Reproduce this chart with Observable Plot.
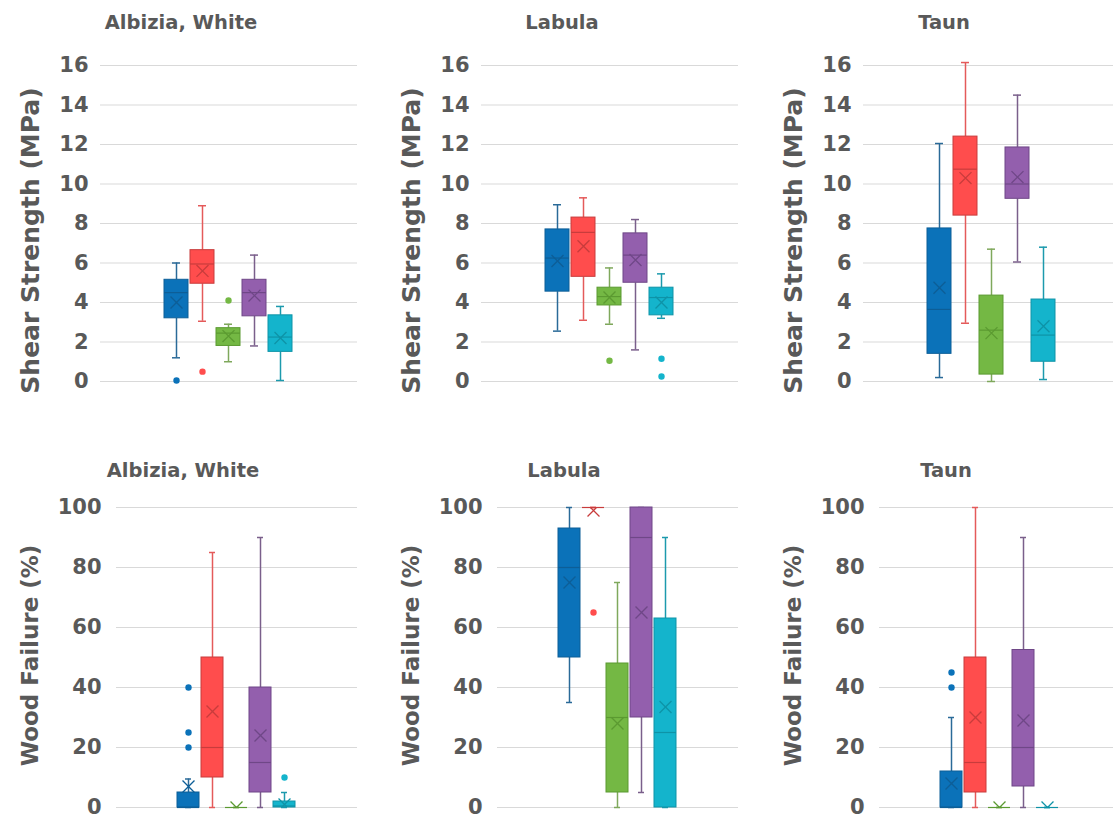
<!DOCTYPE html>
<html>
<head>
<meta charset="utf-8">
<script src="https://cdn.jsdelivr.net/npm/d3@7"></script>
<script src="https://cdn.jsdelivr.net/npm/@observablehq/plot@0.6"></script>
<style>
  html, body { margin: 0; padding: 0; background: #fff; overflow: hidden; }
  #wrap { position: relative; width: 1113px; height: 823px; overflow: hidden; }
  .panel { position: absolute; width: 382px; }
  .panel svg { max-width: none !important; width: 382px; }
</style>
</head>
<body>
<div id="wrap"></div>
<script>
// ---- Data ----
const series = ["S1", "S2", "S3", "S4", "S5"];
const fills   = ["#0b72b9", "#ff4d4d", "#74b844", "#935fad", "#14b4cc"];
const strokes = ["#0d5e97", "#c83c3c", "#5b9a31", "#6f4787", "#0e93a7"];
const whiskerColors = ["#2a6a98", "#e45a5a", "#7fa85c", "#7a5f8b", "#1c9aad"];

const panelTitles = ["Albizia, White", "Labula", "Taun"];
const shearTicks = [0, 2, 4, 6, 8, 10, 12, 14, 16];
const woodTicks = [0, 20, 40, 60, 80, 100];
const shearLabel = "Shear Strength (MPa)";
const woodLabel = "Wood Failure (%)";

// each row: [min, q1, median, q3, max, mean] for S1..S5
const shearAlbizia = [
  [1.2, 3.2, 4.5, 5.15, 6.0, 4.0],
  [3.05, 4.95, 5.95, 6.65, 8.9, 5.6],
  [1.0, 1.8, 2.45, 2.7, 2.9, 2.3],
  [1.8, 3.3, 4.5, 5.15, 6.4, 4.35],
  [0.05, 1.5, 2.25, 3.35, 3.8, 2.2]
];
const shearLabula = [
  [2.55, 4.55, 6.25, 7.7, 8.95, 6.1],
  [3.1, 5.3, 7.55, 8.3, 9.3, 6.85],
  [2.9, 3.85, 4.3, 4.75, 5.75, 4.25],
  [1.6, 5.0, 6.4, 7.5, 8.2, 6.15],
  [3.2, 3.35, 4.25, 4.75, 5.45, 4.0]
];
const shearTaun = [
  [0.2, 1.4, 3.65, 7.75, 12.05, 4.75],
  [2.95, 8.4, 10.75, 12.4, 16.15, 10.3],
  [0.0, 0.35, 2.6, 4.35, 6.7, 2.45],
  [6.05, 9.25, 10.0, 11.85, 14.5, 10.35],
  [0.1, 1.0, 2.35, 4.15, 6.8, 2.8]
];
const woodAlbizia = [
  [0, 0, 0, 5, 9.5, 7],
  [0, 10, 20, 50, 85, 32],
  [0, 0, 0, 0, 0, 0],
  [0, 5, 15, 40, 90, 24],
  [0, 0, 0.5, 2, 5, 1]
];
const woodLabula = [
  [35, 50, 80, 93, 100, 75],
  [100, 100, 100, 100, 100, 99],
  [0, 5, 30, 48, 75, 28],
  [5, 30, 90, 100, 100, 65],
  [0, 0, 25, 63, 90, 33.5]
];
const woodTaun = [
  [0, 0, 0, 12, 30, 8],
  [0, 5, 15, 50, 100, 30],
  [0, 0, 0, 0, 0, 0],
  [0, 7, 20, 52.5, 90, 29],
  [0, 0, 0, 0, 0, 0]
];

// outliers: [seriesIndex, value]
const shearAlbiziaOut = [[0, 0.05], [1, 0.5], [2, 4.1]];
const shearLabulaOut = [[2, 1.05], [4, 1.15], [4, 0.25]];
const shearTaunOut = [];
const woodAlbiziaOut = [[0, 40], [0, 25], [0, 20], [4, 10]];
const woodLabulaOut = [[1, 65]];
const woodTaunOut = [[0, 45], [0, 40]];

// ---- Drawing ----
const FONT = "DejaVu Sans, Verdana, sans-serif";
const GRAY = "#595959";

function toRows(stats) {
  return stats.map((s, i) => ({
    series: series[i], min: s[0], q1: s[1], median: s[2], q3: s[3], max: s[4], mean: s[5],
    fill: fills[i], stroke: strokes[i], whisker: whiskerColors[i]
  }));
}
function toOut(out) {
  return out.map(([i, v]) => ({series: series[i], value: v, fill: fills[i]}));
}

function panel(cfg) {
  const rows = toRows(cfg.stats);
  const outs = toOut(cfg.out);
  return Plot.plot({
    width: 382,
    height: cfg.height,
    marginLeft: cfg.marginLeft,
    marginRight: 25,
    marginTop: cfg.marginTop,
    marginBottom: cfg.marginBottom,
    style: {fontFamily: FONT, color: GRAY, background: "transparent", overflow: "visible"},
    x: {domain: series, axis: null, paddingInner: 0.07, paddingOuter: 0,
        insetLeft: cfg.inset, insetRight: cfg.inset},
    y: {domain: cfg.domain, axis: null},
    marks: [
      Plot.gridY(cfg.ticks, {stroke: "#d9d9d9", strokeOpacity: 1, strokeWidth: 1}),
      Plot.axisY(cfg.ticks, {tickSize: 0, tickPadding: cfg.tickPadding, fontSize: 21,
        fontWeight: "bold", fill: GRAY, label: null}),
      // whiskers
      Plot.ruleX(rows, {x: "series", y1: "min", y2: "q1", stroke: "whisker", strokeWidth: 1.5}),
      Plot.ruleX(rows, {x: "series", y1: "q3", y2: "max", stroke: "whisker", strokeWidth: 1.5}),
      Plot.tickY(rows, {x: "series", y: "min", stroke: "whisker", strokeWidth: 1.5, insetLeft: 8, insetRight: 8}),
      Plot.tickY(rows, {x: "series", y: "max", stroke: "whisker", strokeWidth: 1.5, insetLeft: 8, insetRight: 8}),
      // boxes
      Plot.barY(rows, {x: "series", y1: "q1", y2: "q3", fill: "fill", stroke: "stroke", strokeWidth: 1}),
      Plot.tickY(rows, {x: "series", y: "median", stroke: "stroke", strokeWidth: 1.2}),
      // means
      Plot.dot(rows, {x: "series", y: "mean", symbol: "times", r: 5.5, stroke: "stroke",
        strokeWidth: 1.3, clip: "frame"}),
      // outliers
      Plot.dot(outs, {x: "series", y: "value", r: 3.2, fill: "fill", stroke: "none"}),
      // panel title
      Plot.text([cfg.title], {frameAnchor: "top", dy: cfg.titleDy, dx: cfg.titleDx,
        fontSize: 19.5, fontWeight: "bold", fill: GRAY}),
      // y label
      Plot.text([cfg.label], {frameAnchor: "left", textAnchor: "middle", lineAnchor: "middle",
        rotate: -90, dx: 30 - cfg.marginLeft, dy: cfg.labelDy,
        fontSize: cfg.labelSize, fontWeight: "bold", fill: GRAY})
    ]
  });
}

const wrap = document.getElementById("wrap");
const shearStats = [shearAlbizia, shearLabula, shearTaun];
const shearOuts = [shearAlbiziaOut, shearLabulaOut, shearTaunOut];
const woodStats = [woodAlbizia, woodLabula, woodTaun];
const woodOuts = [woodAlbiziaOut, woodLabulaOut, woodTaunOut];
const lefts = [0, 381, 763];

for (let i = 0; i < 3; i++) {
  const top = panel({
    title: panelTitles[i], stats: shearStats[i], out: shearOuts[i],
    domain: [0, 16], ticks: shearTicks, label: shearLabel,
    height: 416, marginLeft: 100, marginTop: 65, marginBottom: 35,
    inset: 64, tickPadding: 12, titleDy: -50, titleDx: -48,
    labelDy: 17, labelSize: 25
  });
  const d1 = document.createElement("div");
  d1.className = "panel"; d1.style.left = lefts[i] + "px"; d1.style.top = "0px";
  d1.appendChild(top); wrap.appendChild(d1);

  const bot = panel({
    title: panelTitles[i], stats: woodStats[i], out: woodOuts[i],
    domain: [0, 100], ticks: woodTicks, label: woodLabel,
    height: 407, marginLeft: 116, marginTop: 91, marginBottom: 16,
    inset: 60, tickPadding: 15, titleDy: -44, titleDx: -54,
    labelDy: -2, labelSize: 23
  });
  const d2 = document.createElement("div");
  d2.className = "panel"; d2.style.left = lefts[i] + "px"; d2.style.top = "416px";
  d2.appendChild(bot); wrap.appendChild(d2);
}
</script>
</body>
</html>
